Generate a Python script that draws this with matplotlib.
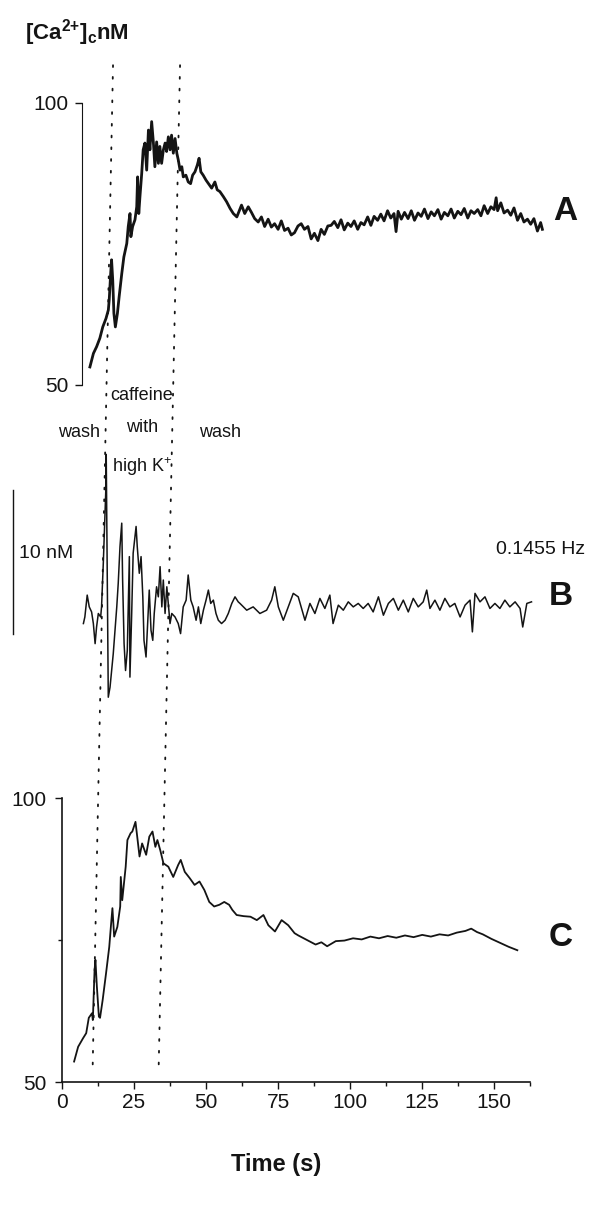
import matplotlib
matplotlib.use("Agg")
import matplotlib.pyplot as plt
from matplotlib.patches import ConnectionPatch

# ---- data ----
# trace A: raw [Ca2+]c (nM) vs time (s)
A_TIME = [2.7, 3.9, 5.0, 6.1, 7.1, 8.2, 9.0, 9.3, 9.8, 10.1, 10.5, 10.9, 11.4, 12.1,
          12.7, 13.6, 14.3, 15.3, 15.8, 16.4, 16.7, 17.3, 18.1, 18.7, 19.0, 19.4,
          19.8, 20.4, 20.9, 21.5, 22.1, 22.7, 23.2, 23.8, 24.4, 24.9, 25.5, 26.1,
          26.6, 27.2, 27.8, 28.4, 28.9, 29.5, 30.1, 30.6, 31.2, 31.8, 32.4, 32.9,
          33.5, 34.1, 34.6, 35.5, 36.3, 37.1, 37.8, 38.6, 39.4, 40.0, 40.6, 41.4,
          42.4, 43.2, 44.3, 45.4, 46.2, 47.1, 48.3, 49.4, 50.6, 51.7, 52.9, 53.8,
          54.5, 55.6, 56.8, 57.9, 59.0, 60.2, 61.3, 62.4, 63.6, 64.7, 65.8, 67.0,
          68.1, 69.2, 70.4, 71.5, 72.6, 73.8, 74.9, 76.0, 77.2, 78.3, 79.4, 80.6,
          81.7, 82.8, 84.0, 85.1, 86.2, 87.4, 88.5, 89.6, 90.8, 91.9, 93.0, 94.2,
          95.3, 96.4, 97.6, 98.7, 99.8, 101.0, 102.1, 103.2, 104.4, 105.5, 106.6,
          107.3, 108.0, 109.1, 110.2, 111.4, 112.5, 113.6, 114.8, 115.9, 117.0,
          118.2, 119.3, 120.4, 121.6, 122.7, 123.8, 125.0, 126.1, 127.2, 128.4,
          129.5, 130.6, 131.8, 132.9, 134.0, 135.2, 136.3, 137.4, 138.6, 139.7,
          140.8, 141.5, 142.0, 143.1, 144.2, 145.4, 146.5, 147.6, 148.8, 149.9,
          151.0, 152.2, 153.3, 154.4, 155.6, 156.7, 157.3]
A_NM = [53.2, 55.6, 56.8, 58.3, 60.3, 61.8, 63.3, 65.1, 69.8, 72.2, 68.6, 62.7, 60.3, 62.7,
        65.7, 69.8, 72.7, 75.1, 78.1, 80.4, 76.3, 78.1, 79.3, 81.6, 86.9, 80.4,
        83.4, 87.5, 91.7, 92.9, 88.1, 95.2, 91.7, 96.7, 92.9, 88.7, 93.1, 89.3,
        92.3, 89.3, 91.7, 92.9, 91.4, 94.0, 91.7, 94.3, 91.1, 93.7, 91.1, 89.9,
        88.1, 88.7, 86.9, 87.2, 86.0, 85.7, 87.2, 87.8, 89.0, 90.2, 87.8, 87.2,
        86.3, 85.7, 84.9, 86.0, 84.6, 84.3, 83.4, 82.5, 81.3, 80.4, 79.8, 81.0,
        81.9, 80.4, 81.6, 80.6, 79.5, 78.9, 79.8, 78.1, 79.4, 78.0, 78.6, 77.6,
        79.1, 77.4, 77.8, 76.6, 77.0, 78.2, 78.6, 77.6, 78.1, 75.9, 76.9, 75.6,
        77.6, 76.7, 78.2, 78.3, 79.0, 77.9, 79.3, 77.5, 78.7, 78.1, 79.1, 77.6,
        78.8, 78.4, 79.8, 78.3, 79.9, 79.2, 80.3, 79.1, 80.9, 79.6, 80.4,
        77.2, 80.8, 79.4, 80.6, 79.5, 80.9, 79.2, 80.5, 79.9, 81.2,
        79.5, 80.7, 80.0, 81.1, 79.4, 80.6, 80.0, 81.2, 79.6, 80.8,
        80.2, 81.3, 79.6, 80.9, 80.4, 81.1, 80.0, 81.8, 80.4, 81.6,
        81.1, 83.2, 80.9, 82.3, 80.5, 81.0, 80.1, 81.4, 79.2, 80.4,
        78.9, 79.4, 78.5, 79.5, 77.3, 78.8, 77.6]

# trace B: 0.1455 Hz component (nM around baseline)
B_TIME = [4.1, 4.6, 5.4, 6.1, 6.9, 7.5, 8.1, 8.6, 9.2, 10.0, 10.3, 10.9, 11.5, 11.8,
          11.9, 12.6, 13.2, 14.3, 15.5, 16.0, 16.6, 17.2, 17.5, 18.0, 18.5, 19.1,
          19.8, 20.0, 20.6, 21.1, 22.1, 22.5, 23.2, 23.8, 24.4, 24.8, 25.5, 26.1,
          26.6, 27.2, 27.8, 28.3, 29.1, 29.7, 30.3, 30.9, 31.4, 32.0, 32.6, 33.1,
          33.7, 34.3, 35.4, 36.5, 37.3, 38.2, 39.2, 39.9, 40.8, 41.6, 42.6, 43.4,
          44.2, 45.1, 46.0, 46.8, 47.6, 48.5, 49.4, 50.2, 51.3, 52.5, 53.6, 54.8,
          55.9, 57.0, 57.6, 59.9, 62.1, 64.4, 66.7, 68.4, 69.5, 70.7, 72.4, 74.1,
          75.8, 77.5, 79.8, 81.5, 83.2, 84.9, 86.6, 88.3, 89.4, 91.2, 92.9, 94.6,
          96.3, 98.0, 99.7, 101.4, 103.1, 104.9, 106.6, 108.3, 110.0, 111.7, 113.4,
          115.1, 116.8, 118.5, 120.2, 121.4, 122.5, 124.2, 125.9, 127.6, 129.3,
          131.0, 132.8, 134.5, 136.2, 137.0, 137.9, 139.6, 141.3, 143.0, 144.7,
          146.4, 148.1, 149.8, 151.6, 153.3, 154.2, 155.6, 157.2]
B_NM = [-1.28, -0.82, 0.70, -0.12, -0.47, -1.28, -2.68, -1.52, -0.58, -0.82, -0.12, 2.92, 6.41, 8.27,
        10.5, -6.41, -5.71, -3.38, -0.12, 1.52, 4.08, 5.71, 1.75, -2.68, -4.55, -3.15,
        3.38, -5.01, -0.58, 3.62, 5.48, 4.08, 2.22, 3.38, 0.58, -2.45, -3.61, -1.05,
        1.05, -1.75, -2.45, -0.58, 1.28, 0.58, 2.68, -0.12, 1.75, -0.58, 1.28, 0.12,
        -1.28, -0.58, -0.82, -1.28, -1.98, -0.12, 0.35, 2.10, 0.35, -0.12, -1.05, -0.12,
        -1.28, -0.35, 0.35, 1.05, 0.12, 0.35, -0.58, -1.05, -1.28, -1.05, -0.58, 0.12,
        0.58, 0.23, 0.12, -0.35, -0.12, -0.58, -0.35, 0.35, 1.28, -0.12, -1.05, -0.12,
        0.82, 0.58, -1.05, 0.12, -0.58, 0.47, -0.23, 0.70, -1.28, 0.0, -0.35, 0.23,
        -0.12, 0.12, -0.23, 0.12, -0.47, 0.58, -0.70, 0.12, 0.47, -0.35, 0.35,
        -0.47, 0.47, -0.12, 0.23, 1.05, -0.23, 0.35, -0.35, 0.47, -0.12,
        0.12, -0.82, 0.0, 0.35, -1.86, 0.82, 0.23, 0.58, -0.23, 0.12,
        -0.23, 0.35, -0.12, 0.23, -0.23, -1.52, 0.12, 0.23]

# trace C: filtered [Ca2+]c (nM)
C_TIME = [4.2, 5.6, 7.3, 8.4, 9.3, 10.4, 10.7, 11.3, 11.6, 12.1, 12.8, 13.2, 14.1, 15.3,
          16.4, 17.0, 17.5, 18.1, 19.2, 20.2, 20.4, 20.9, 22.1, 22.7, 23.8, 24.4,
          25.5, 26.1, 26.9, 27.8, 29.2, 30.3, 31.4, 32.4, 33.1, 34.1, 35.2, 36.9,
          38.6, 40.3, 41.2, 42.6, 44.3, 46.0, 47.7, 49.4, 51.1, 52.8, 54.6, 56.3,
          58.0, 59.1, 60.6, 63.0, 65.4, 67.6, 69.9, 71.6, 73.9, 76.2, 78.5, 80.7,
          82.0, 85.0, 88.0, 90.0, 92.0, 95.0, 98.0, 101.0, 104.0, 107.0, 110.0,
          113.0, 116.0, 119.0, 122.0, 125.0, 128.0, 131.0, 134.0, 137.0, 140.0,
          142.0, 144.0, 146.0, 149.0, 152.0, 155.0, 158.0]
C_NM = [53.6, 56.2, 57.7, 58.6, 61.3, 62.1, 60.9, 69.7, 71.5, 66.8, 61.5, 61.3, 64.4, 69.2,
        73.8, 77.6, 80.6, 75.6, 77.3, 80.9, 86.1, 82.0, 87.9, 92.6, 93.8, 94.1,
        95.8, 93.2, 89.7, 92.0, 90.0, 93.2, 94.1, 91.4, 92.6, 90.8, 88.5, 87.9,
        86.1, 88.2, 89.1, 87.0, 85.9, 84.7, 85.3, 83.8, 81.7, 80.9, 81.2, 81.7,
        81.2, 80.3, 79.4, 79.2, 79.1, 78.5, 79.4, 77.6, 76.5, 78.5, 77.6, 76.2,
        75.8, 75.0, 74.2, 74.6, 73.9, 74.8, 74.9, 75.3, 75.1, 75.6, 75.3,
        75.7, 75.4, 75.8, 75.5, 75.9, 75.6, 76.0, 75.8, 76.3, 76.6,
        77.0, 76.4, 76.0, 75.2, 74.5, 73.8, 73.2]

SOLUTION_CHANGES = [10.6, 33.5]          # dotted lines, s
X_TICKS = [0, 25, 50, 75, 100, 125, 150]
SCALE_BAR_NM = 10

W, H = 589, 1208


def fx(px):
    return px / W


def fy(py):
    return 1 - py / H


plt.rcParams["font.family"] = ["Liberation Sans", "DejaVu Sans"]
plt.rcParams["mathtext.fontset"] = "custom"
plt.rcParams["mathtext.rm"] = "Liberation Sans"
plt.rcParams["mathtext.bf"] = "Liberation Sans:bold"

ink = "#141414"
fig = plt.figure(figsize=(W / 100, H / 100), dpi=100)
span = 468.3 / W

ax_a = fig.add_axes([fx(82), fy(385), span, 282 / H])
ax_b = fig.add_axes([fx(71.4), fy(710), span, 270 / H])
ax_c = fig.add_axes([fx(62), fy(1082), span, 284 / H])

for ax in (ax_a, ax_b, ax_c):
    ax.set_xlim(0, 160)
    ax.patch.set_alpha(0)
    for s in ax.spines.values():
        s.set_visible(False)

# A
ax_a.plot(A_TIME, A_NM, color=ink, lw=2.0)
ax_a.set_ylim(50, 100)
ax_a.spines["left"].set_visible(True)
ax_a.spines["left"].set_bounds(50, 100)
ax_a.spines["left"].set_color(ink)
ax_a.set_xticks([])
ax_a.set_yticks([50, 100])
ax_a.tick_params(axis="y", direction="out", length=5, width=1, pad=5,
                 labelsize=15, colors=ink)

# B
ax_b.plot(B_TIME, B_NM, color=ink, lw=1.1)
ax_b.set_ylim(-7.3, 11.5)
ax_b.set_xticks([])
ax_b.set_yticks([])
ax_b.plot([-20, -20], [-2, -2 + SCALE_BAR_NM], color=ink, lw=1.0, clip_on=False)

# C
ax_c.plot(C_TIME, C_NM, color=ink, lw=1.3)
ax_c.set_ylim(50, 100)
for side in ("left", "bottom"):
    ax_c.spines[side].set_visible(True)
    ax_c.spines[side].set_color(ink)
    ax_c.spines[side].set_linewidth(1.2)
ax_c.spines["left"].set_bounds(50, 100)
ax_c.set_yticks([50, 100])
ax_c.set_yticks([75], minor=True)
ax_c.set_xticks(X_TICKS)
ax_c.set_xticks([t + 12.5 for t in X_TICKS], minor=True)
ax_c.tick_params(axis="both", which="major", direction="out", length=5, width=1,
                 labelsize=15, colors=ink)
ax_c.tick_params(axis="x", which="major", pad=3)
ax_c.tick_params(axis="y", which="major", pad=6)
ax_c.tick_params(axis="both", which="minor", direction="out", length=3, width=1, colors=ink)

# dotted lines marking solution changes, running through all traces
for t in SOLUTION_CHANGES:
    con = ConnectionPatch(xyA=(t, 106.7), coordsA=ax_a.transData,
                          xyB=(t, 51.6), coordsB=ax_c.transData,
                          color=ink, lw=1.3, linestyle=(0, (1, 5.5)))
    fig.add_artist(con)

# texts
fig.text(fx(25), fy(40), r"$\mathbf{[Ca^{2{+}}]_{c}nM}$", fontsize=16, color=ink,
         ha="left", va="baseline")
fig.text(fx(79), fy(432), "wash", fontsize=13, ha="center", va="center", color=ink)
fig.text(fx(142), fy(396), "caffeine", fontsize=13, ha="center", va="center", color=ink)
fig.text(fx(142), fy(428), "with", fontsize=13, ha="center", va="center", color=ink)
fig.text(fx(142), fy(467), r"high K$^{+}$", fontsize=13, ha="center", va="center", color=ink)
fig.text(fx(220), fy(432), "wash", fontsize=13, ha="center", va="center", color=ink)
fig.text(fx(46), fy(553), "10 nM", fontsize=14, ha="center", va="center", color=ink)
fig.text(fx(585), fy(550), "0.1455 Hz", fontsize=14, ha="right", va="center", color=ink)
fig.text(fx(565), fy(212), "A", fontsize=24, fontweight="bold", ha="center", va="center", color=ink)
fig.text(fx(561), fy(597), "B", fontsize=24, fontweight="bold", ha="center", va="center", color=ink)
fig.text(fx(561), fy(938), "C", fontsize=24, fontweight="bold", ha="center", va="center", color=ink)
fig.text(fx(276), fy(1165), "Time (s)", fontsize=17, fontweight="bold",
         ha="center", va="center", color=ink)

fig.savefig("out.png", dpi=100)
